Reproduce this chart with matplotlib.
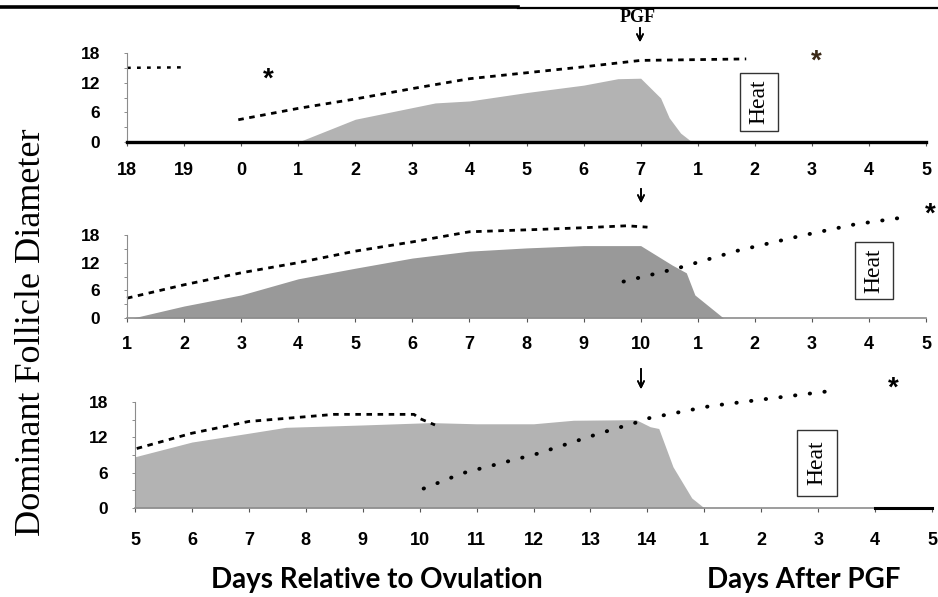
import matplotlib
matplotlib.use("Agg")
import matplotlib.pyplot as plt
from matplotlib.patches import Rectangle
from matplotlib.lines import Line2D

# ---------------- data ----------------
y_ticks = [0, 6, 12, 18]

p1_tick_labels = ['18', '19', '0', '1', '2', '3', '4', '5', '6', '7', '1', '2', '3', '4', '5']
p1_area_x = [3, 4, 5.4, 6, 7, 8, 8.6, 9, 9.35, 9.5, 9.7, 9.9]
p1_area_y = [0, 4.6, 7.9, 8.3, 10.0, 11.5, 12.8, 12.9, 8.9, 4.9, 1.8, 0]
p1_dashA_x = [0, 1]
p1_dashA_y = [15.0, 15.1]
p1_dashB_x = [1.95, 3, 4, 5, 6, 7, 8, 9, 10.85]
p1_dashB_y = [4.5, 6.8, 8.7, 10.8, 12.8, 14.0, 15.2, 16.5, 16.8]

p2_tick_labels = ['1', '2', '3', '4', '5', '6', '7', '8', '9', '10', '1', '2', '3', '4', '5']
p2_area_x = [0.1, 1, 2, 3, 4, 5, 6, 7, 8, 9, 9.55, 9.8, 9.95, 10.45]
p2_area_y = [0, 2.6, 5.0, 8.5, 10.8, 13.0, 14.5, 15.2, 15.7, 15.7, 11.5, 9.8, 5.0, 0]
p2_dash_x = [0, 1, 2, 3, 4, 5, 6, 7.2, 8.05, 8.76, 9.12]
p2_dash_y = [4.3, 7.2, 9.8, 12.0, 14.5, 16.5, 18.7, 19.2, 19.6, 20.0, 19.7]
p2_dot_x = [8.7, 9.65, 10.7, 11.8, 12.75, 13.6]
p2_dot_y = [7.9, 10.8, 14.6, 17.8, 20.3, 21.8]

p3_tick_labels = ['5', '6', '7', '8', '9', '10', '11', '12', '13', '14', '1', '2', '3', '4', '5']
p3_area_x = [0, 1, 2, 2.65, 4, 5.2, 6, 7, 7.7, 8.8, 9.05, 9.2, 9.45, 9.78, 10.0]
p3_area_y = [8.7, 11.2, 12.7, 13.7, 14.1, 14.5, 14.3, 14.3, 14.9, 15.0, 13.8, 13.5, 7.0, 1.7, 0]
p3_dash_x = [0.03, 1, 2, 3, 3.5, 4.9, 5.0, 5.27]
p3_dash_y = [10.1, 12.7, 14.7, 15.5, 15.9, 15.9, 15.2, 14.1]
p3_dot_x = [5.07, 5.75, 7.06, 8.17, 8.8, 9.0, 10.1, 11.16, 12.16]
p3_dot_y = [3.3, 5.9, 9.2, 12.7, 14.5, 15.2, 17.3, 18.6, 19.8]

y_label = "Dominant Follicle Diameter"
x_label_left = "Days Relative to Ovulation"
x_label_right = "Days After PGF"
heat_text = "Heat"
pgf_text = "PGF"

# ---------------- figure ----------------
W, H = 938, 597
fig = plt.figure(figsize=(W / 100, H / 100), dpi=100)


def fx(px):
    return px / W


def fy(py):
    return 1 - py / H


def make_ax(left, right, top, bottom):
    return fig.add_axes([fx(left), fy(bottom), (right - left) / W, (bottom - top) / H])


SANS = ['Liberation Sans', 'DejaVu Sans']
SERIF = ['Liberation Serif', 'DejaVu Serif']
DASH = (0, (2, 2))
DOT = (0, (0.1, 3.7))


def style_ax(ax, labels, xpad, base_color, base_lw):
    ax.set_xlim(0, 14)
    ax.set_ylim(0, 18)
    for s in ['top', 'right']:
        ax.spines[s].set_visible(False)
    ax.spines['left'].set_color('#8c8c8c')
    ax.spines['left'].set_linewidth(0.8)
    ax.spines['bottom'].set_color(base_color)
    ax.spines['bottom'].set_linewidth(base_lw)
    ax.set_xticks(range(len(labels)))
    ax.set_xticklabels(labels, fontfamily=SANS, fontweight='bold', fontsize=13)
    ax.set_yticks(y_ticks)
    ax.set_yticklabels([str(v) for v in y_ticks], fontfamily=SANS, fontweight='bold', fontsize=12.5)
    ax.set_yticks([3, 9, 15], minor=True)
    ax.tick_params(axis='y', which='both', length=2.5, width=0.7, color='#8c8c8c', pad=17)
    ax.tick_params(axis='x', length=3, width=0.8, color='#555555', pad=xpad)
    ax.patch.set_visible(False)


# Panel 1
ax1 = make_ax(127, 926, 53, 142)
style_ax(ax1, p1_tick_labels, 11.5, 'black', 2.4)
ax1.fill_between(p1_area_x, p1_area_y, 0, color='#b3b3b3', lw=0, zorder=1)
ax1.plot(p1_dashA_x, p1_dashA_y, color='black', lw=1.8, ls=(0, (1.5, 2.5)), clip_on=False)
ax1.plot(p1_dashB_x, p1_dashB_y, color='black', lw=2, ls=DASH, clip_on=False)

# Panel 2
ax2 = make_ax(127, 926, 235, 318)
style_ax(ax2, p2_tick_labels, 10, '#8c8c8c', 1.2)
ax2.fill_between(p2_area_x, p2_area_y, 0, color='#999999', lw=0, zorder=1)
ax2.plot(p2_dash_x, p2_dash_y, color='black', lw=2, ls=DASH, clip_on=False)
ax2.plot(p2_dot_x, p2_dot_y, color='black', lw=2.8, ls=DOT, dash_capstyle='round', clip_on=False)

# Panel 3
ax3 = make_ax(135, 932, 402, 508)
style_ax(ax3, p3_tick_labels, 14.5, '#8c8c8c', 1.2)
ax3.fill_between(p3_area_x, p3_area_y, 0, color='#b3b3b3', lw=0, zorder=1)
ax3.plot(p3_dash_x, p3_dash_y, color='black', lw=2, ls=DASH, clip_on=False)
ax3.plot(p3_dot_x, p3_dot_y, color='black', lw=2.8, ls=DOT, dash_capstyle='round', clip_on=False)
ax3.plot([13, 14], [0, 0], color='black', lw=2.2, clip_on=False, zorder=5)

# Top rule lines (cropped heading)
fig.add_artist(Line2D([fx(0), fx(518)], [fy(6.5), fy(6.5)], color='black', lw=2.6))
fig.add_artist(Line2D([fx(518), fx(938)], [fy(8), fy(8)], color='black', lw=1.6))

# Heat boxes
for (l, t, r, b) in [(740, 73, 778, 131), (855, 242, 893, 299), (797, 430, 837, 496)]:
    fig.add_artist(Rectangle((fx(l), fy(b)), (r - l) / W, (b - t) / H, transform=fig.transFigure,
                             facecolor='white', edgecolor='#333333', lw=1.0))
    fig.text(fx((l + r) / 2), fy((t + b) / 2), heat_text, rotation=90, ha='center', va='center',
             fontfamily=SERIF, fontsize=17, color='black')

# PGF label and arrows
fig.text(fx(638), fy(18), pgf_text, ha='center', va='center', fontfamily=SERIF, fontsize=13,
         fontweight='bold')
for (x, y0, y1) in [(640, 25, 45), (641, 186, 206), (641, 366, 392)]:
    fig.add_artist(plt.annotate('', xy=(fx(x), fy(y1)), xytext=(fx(x), fy(y0)),
                                xycoords='figure fraction', textcoords='figure fraction',
                                arrowprops=dict(arrowstyle='->,head_length=0.45,head_width=0.22',
                                                color='black', lw=1.2)))

# Asterisks
for (x, y, c) in [(268, 80, 'black'), (816, 62, '#3b2a18'), (930, 215, 'black'), (893, 389, 'black')]:
    fig.text(fx(x), fy(y), '*', ha='center', va='center', fontfamily=SANS, fontsize=20,
             fontweight='bold', color=c)

# Axis titles
fig.text(fx(32), fy(332), y_label, rotation=90, ha='center', va='center', fontfamily=SERIF,
         fontsize=26)
fig.text(fx(377), fy(580), x_label_left, ha='center', va='center', fontfamily=['Lato', 'DejaVu Sans'],
         fontsize=20, fontweight='bold')
fig.text(fx(804), fy(580), x_label_right, ha='center', va='center', fontfamily=['Lato', 'DejaVu Sans'],
         fontsize=20, fontweight='bold')

fig.savefig('out.png', dpi=100)
